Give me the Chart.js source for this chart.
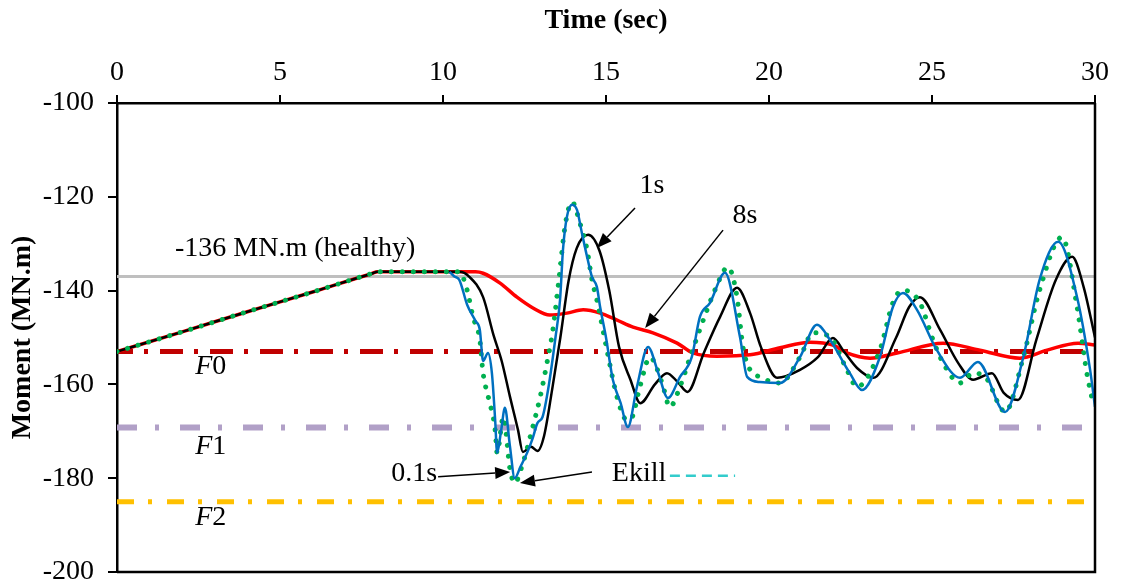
<!DOCTYPE html>
<html>
<head>
<meta charset="utf-8">
<script src="https://cdn.jsdelivr.net/npm/chart.js@4.4.0/dist/chart.umd.min.js"></script>
<style>
html,body{margin:0;padding:0;background:#fff;}
</style>
</head>
<body>
<canvas id="graph" width="1122" height="584"></canvas>
<script>
// moment response vs time
var tEkill = [10.2, 10.35, 10.5, 10.74, 11.0, 11.13, 11.23, 11.38, 11.5, 11.6, 11.66, 11.78, 11.9, 12.05, 12.2, 12.38, 12.58, 12.75, 12.9, 13.05, 13.25, 13.45, 13.59, 13.68, 13.8, 13.96, 14.11, 14.26, 14.42, 14.57, 14.72, 14.82, 15.0, 15.21, 15.45, 15.67, 15.95, 16.29, 16.6, 16.9, 17.27, 17.63, 17.88, 18.19, 18.65, 19.11, 19.33, 19.72, 20.34, 20.95, 21.47, 21.87, 22.48, 22.85, 23.4, 23.8, 24.11, 24.54, 25.15, 25.86, 26.41, 27.24, 27.8, 28.3, 28.87, 29.45, 29.85, 30];
var mEkill = [-136, -137, -137.7, -143, -146.5, -148.4, -155, -153.3, -157.6, -167.6, -174.6, -170, -165, -173, -180, -177.5, -174.6, -171.5, -168.2, -167, -160, -150, -142, -131.3, -124.3, -121.7, -122.8, -127.7, -132.8, -137.1, -139.2, -143.5, -150, -159, -164, -169.1, -160.5, -152, -157.5, -162.9, -158.4, -154.2, -145.6, -142.6, -136.2, -149.9, -158.4, -159.5, -159.7, -154.2, -147.3, -150.5, -157.6, -161.2, -154.2, -143.5, -140.5, -144.1, -152.7, -158.6, -155.2, -165.9, -154.2, -137.7, -129.6, -141.4, -156.9, -164.8];

var t01 = [0, 2, 4, 6, 7.8, 8, 10.5, 10.74, 10.92, 11.13, 11.23, 11.4, 11.6, 11.66, 11.85, 12.06, 12.2, 12.45, 12.73, 12.98, 13.19, 13.37, 13.55, 13.75, 13.96, 14.2, 14.42, 14.57, 14.72, 15.03, 15.34, 15.64, 15.8, 16.04, 16.35, 16.72, 16.96, 17.27, 17.58, 18.1, 18.34, 18.74, 19.02, 19.2, 19.42, 19.72, 20.34, 20.95, 21.35, 21.87, 22.39, 22.7, 23.4, 23.8, 24.1, 24.63, 25.03, 25.34, 25.85, 26.26, 26.7, 27.03, 27.24, 27.8, 28.3, 28.99, 29.45, 29.75, 29.94];
var m01 = [-153, -148.8, -144.5, -140.3, -136.4, -136, -136, -139.9, -145.6, -150.5, -157.6, -163, -169.7, -174.6, -167, -178.3, -181, -176.8, -169.7, -162.7, -155.4, -148.4, -138, -126, -121.1, -125.6, -131.3, -137.7, -142, -152.7, -162.7, -167.6, -167, -160.5, -154.2, -159.7, -164.8, -160.5, -154.2, -144.1, -139.9, -135, -141.4, -152, -156.9, -158.4, -159.7, -154.2, -149, -149.9, -156.9, -160.5, -152.7, -142.6, -139.9, -142.6, -150.5, -155.4, -159.7, -157.6, -159, -164, -165.9, -154.2, -139.9, -128.6, -143.5, -157.6, -164];

var t1 = [0, 2, 4, 6, 7.8, 8, 10.5, 10.8, 11.23, 11.55, 11.8, 12.05, 12.3, 12.45, 12.7, 12.9, 13.1, 13.35, 13.6, 13.85, 14.1, 14.45, 14.8, 15.1, 15.4, 15.75, 16.05, 16.5, 16.87, 17.2, 17.5, 18.0, 18.5, 19.02, 19.42, 19.75, 20.25, 20.95, 21.5, 21.96, 22.3, 22.7, 23.2, 23.9, 24.3, 24.63, 25.25, 25.8, 26.26, 26.84, 27.2, 27.64, 28.2, 28.8, 29.3, 29.65, 30];
var m1 = [-153, -148.8, -144.5, -140.3, -136.4, -136, -136, -137, -141.4, -149.5, -155, -162.5, -169.7, -174.4, -173.3, -174.2, -171, -161, -150, -138, -131, -128.1, -131.5, -140, -152, -159, -164, -160, -157.6, -159.5, -161.6, -153.3, -145.6, -139.4, -144.8, -152, -158.6, -156.9, -154.2, -150.1, -153, -156.5, -158.6, -150, -143.5, -141.4, -148.4, -155.4, -159, -157.6, -161.8, -163.3, -150.5, -137.7, -132.8, -139.2, -150];

var t8 = [0, 2, 4, 6, 7.8, 8, 11.0, 11.23, 11.75, 12.27, 12.76, 13.28, 13.8, 14.3, 14.82, 15.34, 15.83, 16.44, 17.18, 17.67, 18.4, 19.42, 20.34, 21.25, 21.96, 22.39, 23.1, 23.93, 25.34, 26.47, 27.7, 28.53, 29.48, 30];
var m8 = [-153, -148.8, -144.5, -140.3, -136.4, -136, -136, -136.3, -138.4, -141.4, -143.7, -145.2, -144.8, -144.1, -144.8, -146.3, -147.8, -149, -151.2, -153.3, -154, -153.7, -152.2, -151, -151.6, -153.3, -154.4, -153.3, -151.2, -152.7, -154.4, -152.7, -151.2, -151.6];

// reference levels (MN.m)
var healthy = -137;
var levelF0 = -153;
var levelF1 = -169.2;
var levelF2 = -185;

var xTicks = [0, 5, 10, 15, 20, 25, 30];
var yTicks = [-100, -120, -140, -160, -180, -200];

function pts(t, m) {
    var out = [];
    for (let i = 0; i < t.length; i++) out.push({x: t[i], y: m[i]});
    return out;
}
function flat(v) {
    return [{x: xTicks[0], y: v}, {x: xTicks[xTicks.length - 1], y: v}];
}

var serif = "'Liberation Serif', 'Times New Roman', serif";

// labels and arrows placed in data units
var notes = [
    {text: "-136 MN.m (healthy)", x: 1.78, y: -131.1, align: "left"},
    {text: "1s", x: 16.41, y: -117.7, align: "center"},
    {text: "8s", x: 19.26, y: -124.1, align: "center"},
    {text: "0.1s", x: 9.82, y: -179.1, align: "right"},
    {text: "Ekill", x: 15.18, y: -179.1, align: "left"}
];
var fLabels = [
    {sub: "0", x: 2.4, y: -156.3},
    {sub: "1", x: 2.4, y: -173.3},
    {sub: "2", x: 2.4, y: -188.5}
];
var arrows = [
    [15.89, -122.4, 14.72, -130.9],
    [18.59, -127.1, 16.2, -148],
    [9.85, -179.7, 12.06, -178.7],
    [14.57, -178.7, 12.36, -181.0]
];

var notePlugin = {
    id: "notes",
    afterDraw(chart) {
        var ctx = chart.ctx, a = chart.chartArea;
        var sx = chart.scales.x, sy = chart.scales.y;
        ctx.save();
        // right and bottom frame
        ctx.strokeStyle = "#000";
        ctx.lineWidth = 2.5;
        ctx.beginPath();
        ctx.moveTo(a.right, a.top);
        ctx.lineTo(a.right, a.bottom);
        ctx.lineTo(a.left, a.bottom);
        ctx.stroke();

        ctx.fillStyle = "#000";
        ctx.font = "28px " + serif;
        ctx.textBaseline = "middle";
        notes.forEach(function(n) {
            ctx.textAlign = n.align;
            ctx.fillText(n.text, sx.getPixelForValue(n.x), sy.getPixelForValue(n.y));
        });
        ctx.textAlign = "left";
        fLabels.forEach(function(f) {
            var px = sx.getPixelForValue(f.x), py = sy.getPixelForValue(f.y);
            ctx.font = "italic 28px " + serif;
            ctx.fillText("F", px, py);
            var w = ctx.measureText("F").width;
            ctx.font = "28px " + serif;
            ctx.fillText(f.sub, px + w, py);
        });

        // little Ekill legend dash
        ctx.strokeStyle = "#33CCCC";
        ctx.lineWidth = 2.5;
        ctx.setLineDash([10, 6]);
        ctx.beginPath();
        ctx.moveTo(sx.getPixelForValue(16.96), sy.getPixelForValue(-179.5));
        ctx.lineTo(sx.getPixelForValue(18.96), sy.getPixelForValue(-179.5));
        ctx.stroke();
        ctx.setLineDash([]);

        ctx.strokeStyle = "#000";
        ctx.lineWidth = 1.5;
        arrows.forEach(function(ar) {
            var x1 = sx.getPixelForValue(ar[0]), y1 = sy.getPixelForValue(ar[1]);
            var x2 = sx.getPixelForValue(ar[2]), y2 = sy.getPixelForValue(ar[3]);
            var ang = Math.atan2(y2 - y1, x2 - x1);
            var hl = 15, hw = 6;
            var bx = x2 - hl * Math.cos(ang), by = y2 - hl * Math.sin(ang);
            ctx.beginPath();
            ctx.moveTo(x1, y1);
            ctx.lineTo(bx, by);
            ctx.stroke();
            ctx.beginPath();
            ctx.moveTo(x2, y2);
            ctx.lineTo(bx + hw * Math.sin(ang), by - hw * Math.cos(ang));
            ctx.lineTo(bx - hw * Math.sin(ang), by + hw * Math.cos(ang));
            ctx.closePath();
            ctx.fill();
        });
        ctx.restore();
    }
};

var lineBase = {pointRadius: 0, fill: false, cubicInterpolationMode: "monotone"};

new Chart(document.getElementById("graph"), {
    type: "line",
    data: {
        datasets: [
            Object.assign({label: "Ekill", data: pts(tEkill, mEkill), borderColor: "#0070C0", borderWidth: 2.5}, lineBase),
            Object.assign({label: "0.1s", data: pts(t01, m01), borderColor: "#00B050", borderWidth: 5,
                borderDash: [0.01, 11], borderCapStyle: "round"}, lineBase),
            Object.assign({label: "1s", data: pts(t1, m1), borderColor: "#000000", borderWidth: 2.5}, lineBase),
            Object.assign({label: "8s", data: pts(t8, m8), borderColor: "#FF0000", borderWidth: 3.5}, lineBase),
            Object.assign({label: "healthy", data: flat(healthy), borderColor: "#BFBFBF", borderWidth: 3}, lineBase),
            Object.assign({label: "F0", data: flat(levelF0), borderColor: "#C00000", borderWidth: 5,
                borderDash: [23, 11, 4, 12], borderDashOffset: 7}, lineBase),
            Object.assign({label: "F1", data: flat(levelF1), borderColor: "#B1A0C7", borderWidth: 6,
                borderDash: [20, 18, 4, 21]}, lineBase),
            Object.assign({label: "F2", data: flat(levelF2), borderColor: "#FFC000", borderWidth: 5,
                borderDash: [17, 14, 4, 15]}, lineBase)
        ]
    },
    options: {
        responsive: false,
        devicePixelRatio: 1,
        animation: false,
        layout: {padding: {left: 0, top: 0, right: 27, bottom: 12}},
        plugins: {legend: {display: false}, tooltip: {enabled: false}},
        scales: {
            x: {
                type: "linear",
                position: "top",
                min: xTicks[0],
                max: xTicks[xTicks.length - 1],
                afterBuildTicks: function(s) { s.ticks = xTicks.map(function(v) { return {value: v}; }); },
                afterFit: function(s) { s.height = 103; s.paddingLeft = 0; s.paddingRight = 0; },
                ticks: {color: "#000", font: {family: serif, size: 28}, padding: 6, maxRotation: 0},
                grid: {drawOnChartArea: false, tickLength: 8, color: "#000", lineWidth: 2},
                border: {display: true, color: "#000", width: 2.5},
                title: {display: true, text: "Time (sec)", color: "#000",
                    font: {family: serif, size: 28, weight: "bold"}, padding: {top: 4, bottom: 0}}
            },
            y: {
                type: "linear",
                min: yTicks[yTicks.length - 1],
                max: yTicks[0],
                afterBuildTicks: function(s) { s.ticks = yTicks.map(function(v) { return {value: v}; }); },
                afterFit: function(s) { s.width = 117; s.paddingTop = 0; s.paddingBottom = 0; },
                ticks: {color: "#000", font: {family: serif, size: 28}, padding: 14},
                grid: {drawOnChartArea: false, tickLength: 9, color: "#000", lineWidth: 2},
                border: {display: true, color: "#000", width: 2.5},
                title: {display: true, text: "Moment (MN.m)", color: "#000",
                    font: {family: serif, size: 28, weight: "bold"}, padding: {top: 6, bottom: 0}}
            }
        }
    },
    plugins: [notePlugin]
});
</script>
</body>
</html>
